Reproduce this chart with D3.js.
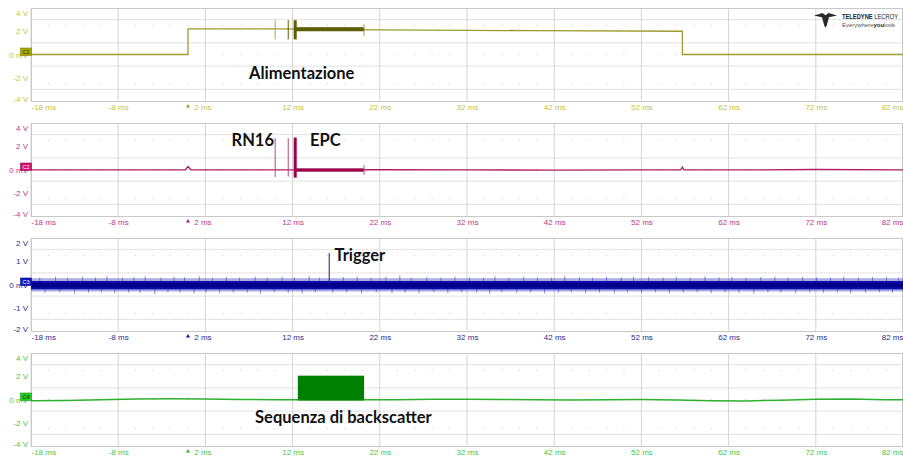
<!DOCTYPE html>
<html>
<head>
<meta charset="utf-8">
<script src="https://cdn.jsdelivr.net/npm/d3@7"></script>
<style>
html,body{margin:0;padding:0;background:#fff;}
svg{display:block;}
</style>
</head>
<body>
<svg id="chart" width="903" height="459"></svg>
<script>
// ---------- DATA ----------
const timeTicks = [-18, -8, 2, 12, 22, 32, 42, 52, 62, 72, 82];
const voltTicks4 = [4, 2, 0, -2, -4];
const voltLabels4 = ["4 V", "2 V", "0 mV", "-2 V", "-4 V"];
const voltTicks2 = [2, 1, 0, -1, -2];
const voltLabels2 = ["2 V", "1 V", "0 mV", "-1 V", "-2 V"];
const triggerTime = 0;

// C1 Alimentazione (supply)
const alimT = [-18, 0, 0, 10, 22, 40, 56.7, 56.7, 82];
const alimV = [0, 0, 2.2, 2.2, 2.12, 2.05, 2.0, 0, 0];
const alimPulseT = [10.0, 11.5, 12.3];
const alimPulseHi = [2.95, 2.95, 2.95];
const alimPulseLo = [1.3, 1.3, 1.3];
const alimBurst = [12.3, 20.2];
const alimBurstV = [2.0, 2.35];
const alimBurstEnd = [1.6, 2.6];

// C2 RF (RN16 / EPC)
const rfT = [-18, -8, -0.3, 0, 0.35, 2, 12, 22, 32, 42, 52, 56.5, 56.7, 56.9, 62, 72, 82];
const rfV = [-0.04, -0.03, -0.03, 0.25, -0.02, -0.04, -0.03, -0.02, -0.04, -0.05, -0.03, -0.03, 0.2, -0.03, -0.04, 0.0, -0.03];
const rfPulseT = [10.0, 11.5, 12.3];
const rfPulseHi = [2.7, 2.7, 2.75];
const rfPulseLo = [-0.65, -0.6, -0.7];
const rfBurst = [12.3, 20.2];
const rfBurstV = [-0.19, 0.1];
const rfBurstEnd = [-0.47, 0.39];

// C3 Trigger
const trigBand = [-0.21, 0.15];
const trigHalo = [-0.3, 0.27];
const trigSpikeUpT = [-17, -15.2, -13.8, -12.1, -10.6, -9.3, -7.5, -6.2, -4.9, -3.1, -1.6, -0.4, 1.3, 2.8, 4.4, 5.9, 7.7, 9.1, 10.8, 12.2, 13.9, 15.1, 17.8, 19.4, 21.0, 22.7, 24.3, 25.6, 27.4, 29.0, 30.6, 32.3, 33.9, 35.2, 36.8, 38.5, 40.1, 41.7, 43.2, 44.9, 46.4, 48.0, 49.7, 51.1, 52.8, 54.5, 56.0, 57.6, 59.3, 60.9, 62.4, 64.0, 65.7, 67.3, 68.8, 70.5, 72.1, 73.7, 75.2, 76.9, 78.5, 80.1, 81.5];
const trigSpikeUpV = [0.3, 0.34, 0.29, 0.33, 0.3, 0.36, 0.29, 0.32, 0.35, 0.29, 0.33, 0.31, 0.35, 0.29, 0.32, 0.3, 0.34, 0.29, 0.33, 0.31, 0.37, 0.3, 0.32, 0.34, 0.29, 0.33, 0.4, 0.29, 0.32, 0.29, 0.34, 0.31, 0.3, 0.35, 0.29, 0.33, 0.32, 0.29, 0.36, 0.31, 0.29, 0.33, 0.3, 0.34, 0.32, 0.29, 0.33, 0.29, 0.35, 0.31, 0.33, 0.29, 0.32, 0.34, 0.29, 0.33, 0.31, 0.3, 0.34, 0.29, 0.32, 0.33, 0.3];
const trigSpikeDnT = [-16.4, -14.7, -13.0, -11.4, -9.9, -8.4, -6.8, -5.5, -3.8, -2.3, -0.9, 0.7, 2.1, 3.6, 5.2, 6.8, 8.3, 9.9, 11.5, 13.1, 14.6, 16.6, 18.2, 19.9, 21.6, 23.4, 24.9, 26.5, 28.2, 29.8, 31.4, 33.1, 34.6, 36.0, 37.7, 39.3, 40.9, 42.5, 44.0, 45.6, 47.2, 48.9, 50.4, 52.0, 53.6, 55.2, 56.8, 58.4, 60.0, 61.6, 63.2, 64.9, 66.5, 68.0, 69.7, 71.3, 72.9, 74.5, 76.0, 77.7, 79.3, 80.8];
const trigSpikeDnV = [-0.36, -0.33, -0.4, -0.35, -0.33, -0.38, -0.34, -0.36, -0.42, -0.33, -0.35, -0.39, -0.33, -0.37, -0.34, -0.35, -0.4, -0.33, -0.36, -0.38, -0.33, -0.35, -0.34, -0.39, -0.33, -0.36, -0.35, -0.38, -0.33, -0.37, -0.34, -0.35, -0.4, -0.33, -0.36, -0.34, -0.38, -0.35, -0.33, -0.37, -0.35, -0.39, -0.33, -0.36, -0.34, -0.38, -0.35, -0.33, -0.37, -0.34, -0.36, -0.39, -0.33, -0.35, -0.37, -0.34, -0.36, -0.33, -0.38, -0.35, -0.34, -0.36];
const trigPeakT = 16.2;
const trigPeakV = 1.35;

// C4 Sequenza di backscatter
const bsT = [-18, -14, -10, -6, -2, 2, 6, 10, 11.5, 12.6, 20.2, 24, 28, 32, 36, 40, 44, 48, 52, 56, 60, 64, 68, 72, 76, 80, 82];
const bsV = [-0.1, -0.08, -0.03, 0.04, 0.06, 0.04, 0.0, -0.02, -0.03, -0.03, -0.03, -0.02, 0.02, 0.03, 0.0, -0.03, -0.05, -0.02, 0.0, -0.04, -0.1, -0.12, -0.06, 0.02, 0.04, -0.02, -0.03];
const bsBlock = [12.6, 20.2];
const bsBlockV = 2.05;

const annotations = [
  {panel: 0, text: "Alimentazione", t: 7.0, v: -2.1},
  {panel: 1, text: "RN16", t: 5.0, v: 2.0},
  {panel: 1, text: "EPC", t: 14.0, v: 2.0},
  {panel: 2, text: "Trigger", t: 16.8, v: 1.0},
  {panel: 3, text: "Sequenza di backscatter", t: 7.7, v: -2.0}
];

// ---------- LAYOUT ----------
const svg = d3.select("#chart");
const left = 31, right = 903;
const panelH = 93;
const panelTops = [8, 123, 238, 353];
const x = d3.scaleLinear().domain([-18, 82]).range([left, right]);

const panels = [
  {top: panelTops[0], range: 4, ticks: voltTicks4, labels: voltLabels4, lab: "#c4c440", trace: "#9c9c2c", dark: "#5e5e00", badge: "#a8a800", badgeTxt: "#333300", name: "C1"},
  {top: panelTops[1], range: 4, ticks: voltTicks4, labels: voltLabels4, lab: "#c2368a", trace: "#b01c62", dark: "#9e0048", badge: "#d0106a", badgeTxt: "#fff", name: "C2"},
  {top: panelTops[2], range: 2, ticks: voltTicks2, labels: voltLabels2, lab: "#2a2a90", trace: "#0c0caa", dark: "#00008a", badge: "#1414c0", badgeTxt: "#fff", name: "C3"},
  {top: panelTops[3], range: 4, ticks: voltTicks4, labels: voltLabels4, lab: "#46c846", trace: "#2eb02e", dark: "#008000", badge: "#22cc22", badgeTxt: "#003300", name: "C4"}
];
panels.forEach(p => {
  p.y = d3.scaleLinear().domain([-p.range, p.range]).range([p.top + panelH, p.top]);
});

const font = "'Liberation Sans', Arial, sans-serif";

panels.forEach((p, i) => {
  const g = svg.append("g");
  const divH = panelH / 8;
  [1, 3, 5, 7].forEach(k => {
    g.append("line").attr("x1", left).attr("x2", right)
      .attr("y1", p.top + k * divH).attr("y2", p.top + k * divH)
      .attr("stroke", "#e2e2e2").attr("stroke-width", 1);
  });
  timeTicks.forEach(t => {
    g.append("line").attr("x1", x(t)).attr("x2", x(t))
      .attr("y1", p.top).attr("y2", p.top + panelH)
      .attr("stroke", "#d4d4d4").attr("stroke-width", 1);
  });
  const minor = d3.range(-18, 82, 2).filter(t => (t + 18) % 10 !== 0);
  [1.5, 4, 6.5].forEach(k => {
    minor.forEach(t => {
      g.append("rect").attr("x", x(t) - 0.5).attr("y", p.top + k * divH - 0.5)
        .attr("width", 1).attr("height", 1).attr("fill", "#c8c8c8");
    });
  });
  g.append("rect").attr("x", left + 0.5).attr("y", p.top + 0.5)
    .attr("width", right - left - 1).attr("height", panelH)
    .attr("fill", "none").attr("stroke", "#c8c8c8");

  const yAxis = d3.axisLeft(p.y).tickValues(p.ticks)
    .tickFormat((d, j) => p.labels[j]).tickSize(0).tickPadding(3);
  const ya = g.append("g").attr("transform", `translate(${left},0)`).call(yAxis);
  ya.select(".domain").remove();
  ya.selectAll("text").attr("fill", p.lab).attr("font-family", font).attr("font-size", 8)
    .attr("dy", (d) => d === p.range ? "0.9em" : (d === -p.range ? "0.05em" : "0.32em"));

  const xAxis = d3.axisBottom(x).tickValues(timeTicks).tickFormat(d => d + " ms").tickSize(0).tickPadding(3);
  const xa = g.append("g").attr("transform", `translate(0,${p.top + panelH})`).call(xAxis);
  xa.select(".domain").remove();
  xa.selectAll("text").attr("fill", p.lab).attr("font-family", font).attr("font-size", 8)
    .attr("text-anchor", d => d === -18 ? "start" : (d === 82 ? "end" : "middle"))
    .attr("dx", d => d === 2 ? -3 : 0);

  const tx = x(triggerTime), ty = p.top + panelH + 3;
  g.append("path").attr("d", `M${tx - 2},${ty + 3.5}L${tx + 2},${ty + 3.5}L${tx},${ty}Z`).attr("fill", p.trace);
  p.g = g;
});

const line = (p) => d3.line().x(d => x(d[0])).y(d => p.y(d[1]));

// ---------- C1 ----------
(function () {
  const p = panels[0];
  p.g.append("path").datum(d3.zip(alimT, alimV)).attr("d", line(p))
    .attr("fill", "none").attr("stroke", p.trace).attr("stroke-width", 1.3);
  p.g.append("rect").attr("x", x(alimBurst[0])).attr("width", x(alimBurst[1]) - x(alimBurst[0]))
    .attr("y", p.y(alimBurstV[1])).attr("height", p.y(alimBurstV[0]) - p.y(alimBurstV[1]))
    .attr("fill", p.dark);
  alimPulseT.forEach((t, j) => {
    p.g.append("line").attr("x1", x(t)).attr("x2", x(t))
      .attr("y1", p.y(alimPulseHi[j])).attr("y2", p.y(alimPulseLo[j]))
      .attr("stroke", j === 0 ? "#a8a850" : p.dark)
      .attr("stroke-width", j === 2 ? 3 : 1);
  });
  p.g.append("line").attr("x1", x(alimBurst[1])).attr("x2", x(alimBurst[1]))
    .attr("y1", p.y(alimBurstEnd[1])).attr("y2", p.y(alimBurstEnd[0]))
    .attr("stroke", "#a0a050").attr("stroke-width", 1);
})();

// ---------- C2 ----------
(function () {
  const p = panels[1];
  p.g.append("path").datum(d3.zip(rfT, rfV)).attr("d", line(p))
    .attr("fill", "none").attr("stroke", p.trace).attr("stroke-width", 1.3);
  p.g.append("rect").attr("x", x(rfBurst[0])).attr("width", x(rfBurst[1]) - x(rfBurst[0]))
    .attr("y", p.y(rfBurstV[1])).attr("height", p.y(rfBurstV[0]) - p.y(rfBurstV[1]))
    .attr("fill", p.dark);
  rfPulseT.forEach((t, j) => {
    p.g.append("line").attr("x1", x(t)).attr("x2", x(t))
      .attr("y1", p.y(rfPulseHi[j])).attr("y2", p.y(rfPulseLo[j]))
      .attr("stroke", j === 2 ? p.dark : "#b84a80").attr("stroke-width", j === 2 ? 3 : 1);
  });
  p.g.append("line").attr("x1", x(rfBurst[1])).attr("x2", x(rfBurst[1]))
    .attr("y1", p.y(rfBurstEnd[1])).attr("y2", p.y(rfBurstEnd[0]))
    .attr("stroke", "#c0609a").attr("stroke-width", 1);
})();

// ---------- C3 ----------
(function () {
  const p = panels[2];
  p.g.append("rect").attr("x", x(-18)).attr("width", x(82) - x(-18))
    .attr("y", p.y(trigHalo[1])).attr("height", p.y(trigHalo[0]) - p.y(trigHalo[1]))
    .attr("fill", "#4a4ac8").attr("opacity", 0.45);
  trigSpikeUpT.forEach((t, j) => {
    p.g.append("line").attr("x1", x(t)).attr("x2", x(t))
      .attr("y1", p.y(0)).attr("y2", p.y(trigSpikeUpV[j]))
      .attr("stroke", "#3030b0").attr("stroke-width", 0.7).attr("opacity", 0.8);
  });
  trigSpikeDnT.forEach((t, j) => {
    p.g.append("line").attr("x1", x(t)).attr("x2", x(t))
      .attr("y1", p.y(0)).attr("y2", p.y(trigSpikeDnV[j]))
      .attr("stroke", "#3030b0").attr("stroke-width", 0.7).attr("opacity", 0.8);
  });
  p.g.append("rect").attr("x", x(-18)).attr("width", x(82) - x(-18))
    .attr("y", p.y(trigBand[1])).attr("height", p.y(trigBand[0]) - p.y(trigBand[1]))
    .attr("fill", p.trace);
  p.g.append("rect").attr("x", x(-18)).attr("width", x(82) - x(-18))
    .attr("y", p.y(trigBand[1]) + 2).attr("height", p.y(trigBand[0]) - p.y(trigBand[1]) - 4)
    .attr("fill", p.dark);
  p.g.append("line").attr("x1", x(trigPeakT)).attr("x2", x(trigPeakT))
    .attr("y1", p.y(0)).attr("y2", p.y(trigPeakV))
    .attr("stroke", "#1a1a80").attr("stroke-width", 1);
})();

// ---------- C4 ----------
(function () {
  const p = panels[3];
  p.g.append("path").datum(d3.zip(bsT, bsV)).attr("d", line(p))
    .attr("fill", "none").attr("stroke", p.trace).attr("stroke-width", 1.5);
  p.g.append("rect").attr("x", x(bsBlock[0])).attr("width", x(bsBlock[1]) - x(bsBlock[0]))
    .attr("y", p.y(bsBlockV)).attr("height", p.y(0) - p.y(bsBlockV) + 1)
    .attr("fill", p.dark);
})();

// ---------- badges ----------
panels.forEach(p => {
  const yc = p.y(0);
  p.g.append("rect").attr("x", 20.5).attr("y", yc - 6.5).attr("width", 11).attr("height", 7.5)
    .attr("fill", p.badge).attr("stroke", d3.color(p.badge).darker(0.8)).attr("stroke-width", 0.6);
  p.g.append("text").attr("x", 26).attr("y", yc - 0.8).attr("text-anchor", "middle")
    .attr("font-family", font).attr("font-size", 5.5).attr("fill", p.badgeTxt).text(p.name);
});

// ---------- annotations ----------
annotations.forEach(a => {
  const p = panels[a.panel];
  svg.append("text").attr("x", x(a.t)).attr("y", p.y(a.v))
    .attr("font-family", "Lato, 'Open Sans', sans-serif").attr("font-weight", "bold")
    .attr("font-size", 16.5).attr("fill", "#111").text(a.text);
});

// ---------- logo ----------
(function () {
  const g = svg.append("g").attr("transform", "translate(814,13)");
  g.append("path").attr("d", "M0,2.5 L8.5,0 L11.5,2.2 L14.5,0 L23,2.5 L15,4.2 L12.6,13 L11.5,14.5 L10.4,13 L8,4.2 Z").attr("fill", "#2a2a2a");
  const t1 = svg.append("text").attr("x", 842).attr("y", 19).attr("font-family", font).attr("font-size", 6.5)
    .attr("fill", "#222").attr("textLength", 56).attr("lengthAdjust", "spacingAndGlyphs");
  t1.append("tspan").attr("font-weight", "bold").text("TELEDYNE ");
  t1.append("tspan").text("LECROY");
  const t2 = svg.append("text").attr("x", 842).attr("y", 26.5).attr("font-family", font).attr("font-size", 5.5)
    .attr("fill", "#555").attr("textLength", 53).attr("lengthAdjust", "spacingAndGlyphs");
  t2.append("tspan").text("Everywhere");
  t2.append("tspan").attr("font-weight", "bold").attr("fill", "#222").text("you");
  t2.append("tspan").text("look");
})();
</script>
</body>
</html>
